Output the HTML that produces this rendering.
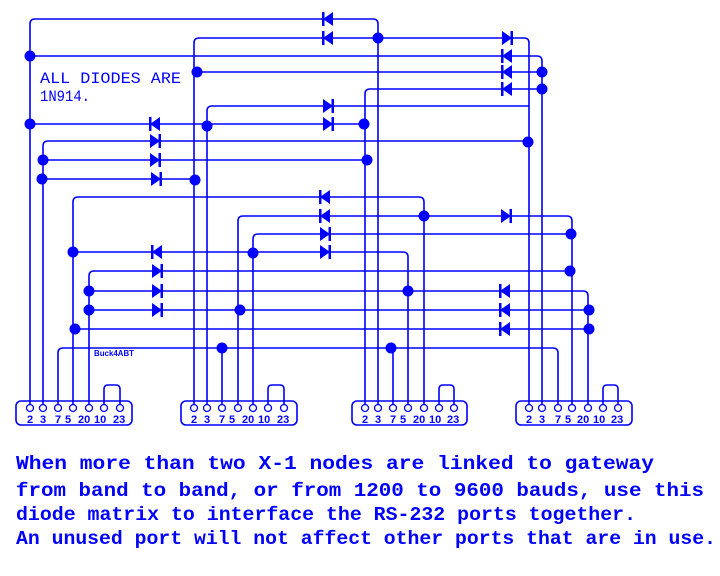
<!DOCTYPE html>
<html><head><meta charset="utf-8"><style>
html,body{margin:0;padding:0;background:#fff;width:720px;height:576px;overflow:hidden}
svg{display:block}
</style></head><body>
<svg width="720" height="576" viewBox="0 0 720 576" xmlns="http://www.w3.org/2000/svg">
<defs>
<g id="dl"><polygon points="-5,0 5,-7 5,7" fill="#0000ff"/><rect x="-6" y="-7" width="2.5" height="14" fill="#0000ff"/></g>
<g id="dr"><polygon points="5,0 -5,-7 -5,7" fill="#0000ff"/><rect x="3.5" y="-7" width="2.5" height="14" fill="#0000ff"/></g>
</defs>
<g fill="none" stroke="#0000ff" stroke-width="1.6">
<path d="M30,404 V24 Q30,19 35,19 H373 Q378,19 378,24 V404"/>
<path d="M194,404 V43 Q194,38 199,38 H524 Q529,38 529,43 V404"/>
<path d="M30,56 H537 Q542,56 542,61 V404"/>
<path d="M197,72 H542"/>
<path d="M365,404 V94 Q365,89 370,89 H542"/>
<path d="M207,404 V111 Q207,106 212,106 H529"/>
<path d="M30,124 H364"/>
<path d="M43,404 V146 Q43,141 48,141 H529"/>
<path d="M43,160 H367"/>
<path d="M43,179 H195"/>
<path d="M73,404 V202 Q73,197 78,197 H419 Q424,197 424,202 V404"/>
<path d="M238,404 V221 Q238,216 243,216 H567 Q572,216 572,221 V404"/>
<path d="M253,404 V239 Q253,234 258,234 H572"/>
<path d="M73,252 H403 Q408,252 408,257 V404"/>
<path d="M89,404 V276 Q89,271 94,271 H572"/>
<path d="M89,291 H583 Q588,291 588,296 V404"/>
<path d="M89,310 H588"/>
<path d="M75,329 H588"/>
<path d="M58,404 V353 Q58,348 63,348 H553 Q558,348 558,353 V404"/>
<path d="M222,348 V404 M393,348 V404"/>
<!-- boxes -->
<rect x="16" y="401" width="116" height="24" rx="5"/>
<rect x="181" y="401" width="116" height="24" rx="5"/>
<rect x="352" y="401" width="115" height="24" rx="5"/>
<rect x="516" y="401" width="116" height="24" rx="5"/>
<path d="M104,404 V389 Q104,385 108,385 H116 Q120,385 120,389 V404"/>
<path d="M268,404 V389 Q268,385 272,385 H280 Q284,385 284,389 V404"/>
<path d="M439,404 V389 Q439,385 443,385 H450 Q454,385 454,389 V404"/>
<path d="M603,404 V389 Q603,385 607,385 H614 Q618,385 618,389 V404"/>
</g>
<g fill="#fff" stroke="#0000ff" stroke-width="1.3">
<circle cx="30" cy="408" r="3.5"/><circle cx="43" cy="408" r="3.5"/><circle cx="58" cy="408" r="3.5"/><circle cx="73" cy="408" r="3.5"/><circle cx="89" cy="408" r="3.5"/><circle cx="104" cy="408" r="3.5"/><circle cx="120" cy="408" r="3.5"/>
<circle cx="194" cy="408" r="3.5"/><circle cx="207" cy="408" r="3.5"/><circle cx="222" cy="408" r="3.5"/><circle cx="238" cy="408" r="3.5"/><circle cx="253" cy="408" r="3.5"/><circle cx="268" cy="408" r="3.5"/><circle cx="284" cy="408" r="3.5"/>
<circle cx="365" cy="408" r="3.5"/><circle cx="378" cy="408" r="3.5"/><circle cx="393" cy="408" r="3.5"/><circle cx="408" cy="408" r="3.5"/><circle cx="424" cy="408" r="3.5"/><circle cx="439" cy="408" r="3.5"/><circle cx="454" cy="408" r="3.5"/>
<circle cx="529" cy="408" r="3.5"/><circle cx="542" cy="408" r="3.5"/><circle cx="558" cy="408" r="3.5"/><circle cx="572" cy="408" r="3.5"/><circle cx="588" cy="408" r="3.5"/><circle cx="603" cy="408" r="3.5"/><circle cx="618" cy="408" r="3.5"/>
</g>
<g fill="#0000ff">
<circle cx="30" cy="56" r="5.5"/><circle cx="30" cy="124" r="5.5"/>
<circle cx="43" cy="160" r="5.5"/><circle cx="42" cy="179" r="5.5"/>
<circle cx="197" cy="72" r="5.5"/><circle cx="195" cy="180" r="5.5"/>
<circle cx="207" cy="126" r="5.5"/><circle cx="378" cy="38" r="5.5"/>
<circle cx="364" cy="124" r="5.5"/><circle cx="367" cy="160" r="5.5"/>
<circle cx="542" cy="72" r="5.5"/><circle cx="542" cy="89" r="5.5"/><circle cx="528" cy="142" r="5.5"/>
<circle cx="73" cy="252" r="5.5"/><circle cx="75" cy="329" r="5.5"/>
<circle cx="89" cy="291" r="5.5"/><circle cx="89" cy="310" r="5.5"/>
<circle cx="253" cy="253" r="5.5"/><circle cx="240" cy="310" r="5.5"/>
<circle cx="222" cy="348" r="5.5"/><circle cx="391" cy="348" r="5.5"/>
<circle cx="424" cy="216" r="5.5"/><circle cx="408" cy="291" r="5.5"/>
<circle cx="571" cy="234" r="5.5"/><circle cx="570" cy="271" r="5.5"/>
<circle cx="589" cy="310" r="5.5"/><circle cx="589" cy="329" r="5.5"/>
</g>
<use href="#dl" x="328" y="19"/>
<use href="#dl" x="328" y="38"/><use href="#dr" x="507" y="38"/>
<use href="#dl" x="507" y="56"/><use href="#dl" x="507" y="72"/><use href="#dl" x="507" y="89"/>
<use href="#dr" x="328" y="106"/>
<use href="#dl" x="155" y="124"/><use href="#dr" x="328" y="124"/>
<use href="#dr" x="155" y="141"/><use href="#dr" x="155" y="160"/><use href="#dr" x="156" y="179"/>
<use href="#dl" x="325" y="197"/>
<use href="#dl" x="325" y="216"/><use href="#dr" x="506" y="216"/>
<use href="#dr" x="325" y="234"/>
<use href="#dl" x="157" y="252"/><use href="#dr" x="325" y="252"/>
<use href="#dr" x="157" y="271"/>
<use href="#dr" x="157" y="291"/><use href="#dl" x="505" y="291"/>
<use href="#dr" x="157" y="310"/><use href="#dl" x="505" y="310"/>
<use href="#dl" x="505" y="329"/>
<g fill="#0000ff" font-family="Liberation Mono, monospace">
<text x="40" y="83" font-size="16" textLength="141" lengthAdjust="spacingAndGlyphs">ALL DIODES ARE</text>
<text x="40" y="101" font-size="16" textLength="50" lengthAdjust="spacingAndGlyphs">1N914.</text>
<text x="94" y="356" font-size="8" font-weight="bold" font-family="Liberation Sans, sans-serif" textLength="40" lengthAdjust="spacingAndGlyphs">Buck4ABT</text>
</g>
<g fill="#0000ff" font-family="Liberation Sans, sans-serif" font-size="11" font-weight="bold">
<text x="27" y="423">2</text><text x="40" y="423">3</text><text x="55" y="423">7</text><text x="65" y="423">5</text><text x="78" y="423">20</text><text x="94" y="423">10</text><text x="113" y="423">23</text>
<text x="191" y="423">2</text><text x="204" y="423">3</text><text x="219" y="423">7</text><text x="229" y="423">5</text><text x="242" y="423">20</text><text x="258" y="423">10</text><text x="277" y="423">23</text>
<text x="362" y="423">2</text><text x="375" y="423">3</text><text x="390" y="423">7</text><text x="400" y="423">5</text><text x="413" y="423">20</text><text x="429" y="423">10</text><text x="447" y="423">23</text>
<text x="526" y="423">2</text><text x="539" y="423">3</text><text x="555" y="423">7</text><text x="565" y="423">5</text><text x="577" y="423">20</text><text x="593" y="423">10</text><text x="611" y="423">23</text>
</g>
<g fill="#0000ff" font-family="Liberation Mono, monospace" font-size="19" font-weight="bold">
<text x="16" y="469" textLength="638" lengthAdjust="spacingAndGlyphs">When more than two X-1 nodes are linked to gateway</text>
<text x="16" y="496" textLength="688" lengthAdjust="spacingAndGlyphs">from band to band, or from 1200 to 9600 bauds, use this</text>
<text x="16" y="520" textLength="620" lengthAdjust="spacingAndGlyphs">diode matrix to interface the RS-232 ports together.</text>
<text x="16" y="544" textLength="700" lengthAdjust="spacingAndGlyphs">An unused port will not affect other ports that are in use.</text>
</g>
</svg>
</body></html>
